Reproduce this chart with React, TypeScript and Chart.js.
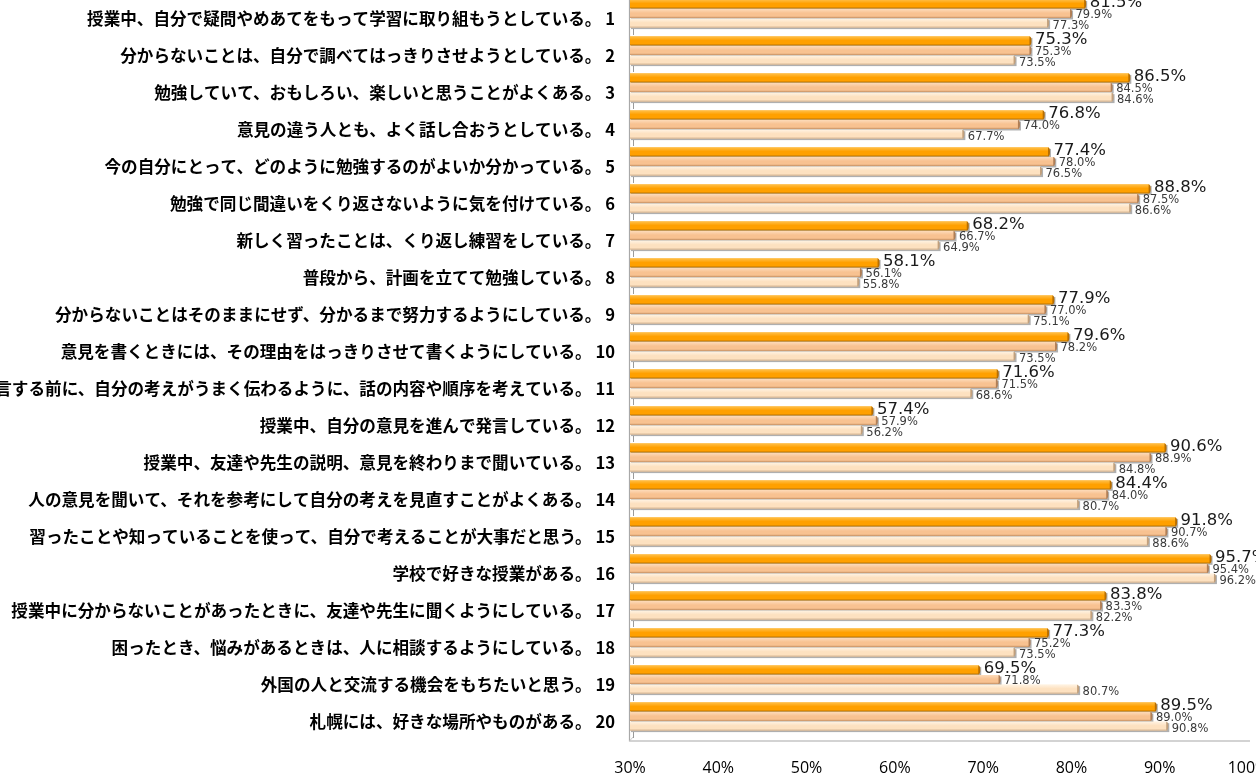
import React, { useEffect, useRef } from "react";
import { Chart, registerables } from "chart.js";

Chart.register(...registerables);

const categories = [
  "授業中、自分で疑問やめあてをもって学習に取り組もうとしている。 1",
  "分からないことは、自分で調べてはっきりさせようとしている。 2",
  "勉強していて、おもしろい、楽しいと思うことがよくある。 3",
  "意見の違う人とも、よく話し合おうとしている。 4",
  "今の自分にとって、どのように勉強するのがよいか分かっている。 5",
  "勉強で同じ間違いをくり返さないように気を付けている。 6",
  "新しく習ったことは、くり返し練習をしている。 7",
  "普段から、計画を立てて勉強している。 8",
  "分からないことはそのままにせず、分かるまで努力するようにしている。 9",
  "意見を書くときには、その理由をはっきりさせて書くようにしている。 10",
  "発言する前に、自分の考えがうまく伝わるように、話の内容や順序を考えている。 11",
  "授業中、自分の意見を進んで発言している。 12",
  "授業中、友達や先生の説明、意見を終わりまで聞いている。 13",
  "人の意見を聞いて、それを参考にして自分の考えを見直すことがよくある。 14",
  "習ったことや知っていることを使って、自分で考えることが大事だと思う。 15",
  "学校で好きな授業がある。 16",
  "授業中に分からないことがあったときに、友達や先生に聞くようにしている。 17",
  "困ったとき、悩みがあるときは、人に相談するようにしている。 18",
  "外国の人と交流する機会をもちたいと思う。 19",
  "札幌には、好きな場所やものがある。 20",
];

const seriesA = [81.5, 75.3, 86.5, 76.8, 77.4, 88.8, 68.2, 58.1, 77.9, 79.6, 71.6, 57.4, 90.6, 84.4, 91.8, 95.7, 83.8, 77.3, 69.5, 89.5];
const seriesB = [79.9, 75.3, 84.5, 74.0, 78.0, 87.5, 66.7, 56.1, 77.0, 78.2, 71.5, 57.9, 88.9, 84.0, 90.7, 95.4, 83.3, 75.2, 71.8, 89.0];
const seriesC = [77.3, 73.5, 84.6, 67.7, 76.5, 86.6, 64.9, 55.8, 75.1, 73.5, 68.6, 56.2, 84.8, 80.7, 88.6, 96.2, 82.2, 73.5, 80.7, 90.8];

const xMin = 30;
const xMax = 100;
const xStep = 10;

const palettes = [
  { light: "#FFC04A", main: "#FFA000", dark: "#C27600", cap: "#B86E00" },
  { light: "#FDDBBA", main: "#F8C291", dark: "#C48F62", cap: "#B07E55" },
  { light: "#FFF3E3", main: "#FDE1C0", dark: "#D2B08C", cap: "#C2A07C" },
];

const labelStyles = [
  { font: "16.5px 'DejaVu Sans'", color: "#1a1a1a", dy: -1 },
  { font: "11.5px 'DejaVu Sans'", color: "#3a3a3a", dy: 2 },
  { font: "11.5px 'DejaVu Sans'", color: "#3a3a3a", dy: 3 },
];

const bar3dPlugin = {
  id: "bar3d",
  beforeDatasetsDraw(chart: any) {
    const { ctx, chartArea } = chart;
    const { left, right, top, bottom } = chartArea;
    ctx.save();
    ctx.strokeStyle = "#A8A8A8";
    ctx.lineWidth = 1.2;
    ctx.beginPath();
    ctx.moveTo(left - 0.5, top - 20);
    ctx.lineTo(left - 0.5, bottom + 6);
    ctx.lineTo(right + 2, bottom + 6);
    ctx.stroke();
    ctx.strokeStyle = "#C8C8C8";
    ctx.lineWidth = 1;
    ctx.beginPath();
    ctx.moveTo(left - 0.5, bottom + 6);
    ctx.lineTo(left + 4, bottom + 1);
    ctx.stroke();
    const yScale = chart.scales.y;
    ctx.strokeStyle = "#9A9A9A";
    for (let i = 0; i <= categories.length; i++) {
      const yb = yScale.getPixelForValue(i - 0.5);
      ctx.beginPath();
      ctx.moveTo(left + 3.5, yb - 3);
      ctx.lineTo(left + 3.5, yb + 3);
      ctx.stroke();
    }
    chart.data.datasets.forEach((_: any, di: number) => {
      const meta = chart.getDatasetMeta(di);
      meta.data.forEach((bar: any) => {
        const h = bar.height;
        const b = Math.max(bar.base, left);
        ctx.fillStyle = "rgba(110,110,110,0.55)";
        ctx.fillRect(b + 1, bar.y - h / 2 + 1.5, bar.x - b + 1.5, h);
      });
    });
    ctx.restore();
  },
  afterDatasetsDraw(chart: any) {
    const { ctx, chartArea } = chart;
    ctx.save();
    chart.data.datasets.forEach((ds: any, di: number) => {
      const meta = chart.getDatasetMeta(di);
      const p = palettes[di];
      meta.data.forEach((bar: any) => {
        const h = bar.height;
        const y0 = bar.y - h / 2;
        const b = Math.max(bar.base, chartArea.left);
        const g = ctx.createLinearGradient(0, y0, 0, y0 + h);
        g.addColorStop(0, p.light);
        g.addColorStop(0.45, p.main);
        g.addColorStop(0.8, p.main);
        g.addColorStop(1, p.dark);
        ctx.fillStyle = g;
        ctx.fillRect(b, y0, bar.x - b, h);
        ctx.fillStyle = p.cap;
        ctx.beginPath();
        ctx.ellipse(bar.x - 0.5, bar.y, 2, h / 2, 0, -Math.PI / 2, Math.PI / 2);
        ctx.fill();
      });
    });
    ctx.textAlign = "left";
    ctx.textBaseline = "middle";
    chart.data.datasets.forEach((ds: any, di: number) => {
      const meta = chart.getDatasetMeta(di);
      const st = labelStyles[di];
      ctx.font = st.font;
      ctx.fillStyle = st.color;
      meta.data.forEach((bar: any, i: number) => {
        const v = ds.data[i];
        ctx.fillText(v.toFixed(1) + "%", bar.x + 5, bar.y + st.dy);
      });
    });
    ctx.restore();
  },
};

export default function App() {
  const canvasRef = useRef<HTMLCanvasElement | null>(null);

  useEffect(() => {
    if (!canvasRef.current) return;
    const chart = new Chart(canvasRef.current, {
      type: "bar",
      data: {
        labels: categories,
        datasets: [
          { label: "A", data: seriesA, backgroundColor: palettes[0].main, borderWidth: 0 },
          { label: "B", data: seriesB, backgroundColor: palettes[1].main, borderWidth: 0 },
          { label: "C", data: seriesC, backgroundColor: palettes[2].main, borderWidth: 0 },
        ],
      },
      options: {
        indexAxis: "y",
        animation: false,
        responsive: true,
        maintainAspectRatio: false,
        categoryPercentage: 0.78,
        barPercentage: 0.93,
        layout: { padding: { top: 6, right: 8, left: 0, bottom: 0 } },
        plugins: {
          legend: { display: false },
          tooltip: { enabled: false },
        },
        scales: {
          x: {
            min: xMin,
            max: xMax,
            grid: { display: false, drawTicks: false },
            border: { display: false },
            ticks: {
              stepSize: xStep,
              padding: 24,
              color: "#000",
              font: { family: "'Open Sans'", size: 16 },
              callback: (v: any) => v + "%",
              maxRotation: 0,
            },
            afterFit: (s: any) => {
              s.height = 54;
              s.paddingRight = 0;
              s.paddingLeft = 0;
            },
          },
          y: {
            grid: { display: false, drawTicks: false },
            border: { display: false },
            ticks: {
              padding: 15,
              labelOffset: 5,
              color: "#000",
              autoSkip: false,
              font: { family: "'Noto Sans CJK JP'", size: 16.6, weight: "bold" },
            },
            afterFit: (s: any) => {
              s.width = 630;
              s.paddingTop = 0;
              s.paddingBottom = 0;
            },
          },
        },
      },
      plugins: [bar3dPlugin],
    });
    return () => chart.destroy();
  }, []);

  return (
    <div
      style={{
        position: "fixed",
        left: 0,
        top: -11,
        width: 1256,
        height: 800,
        background: "#fff",
      }}
    >
      <canvas ref={canvasRef} />
    </div>
  );
}
